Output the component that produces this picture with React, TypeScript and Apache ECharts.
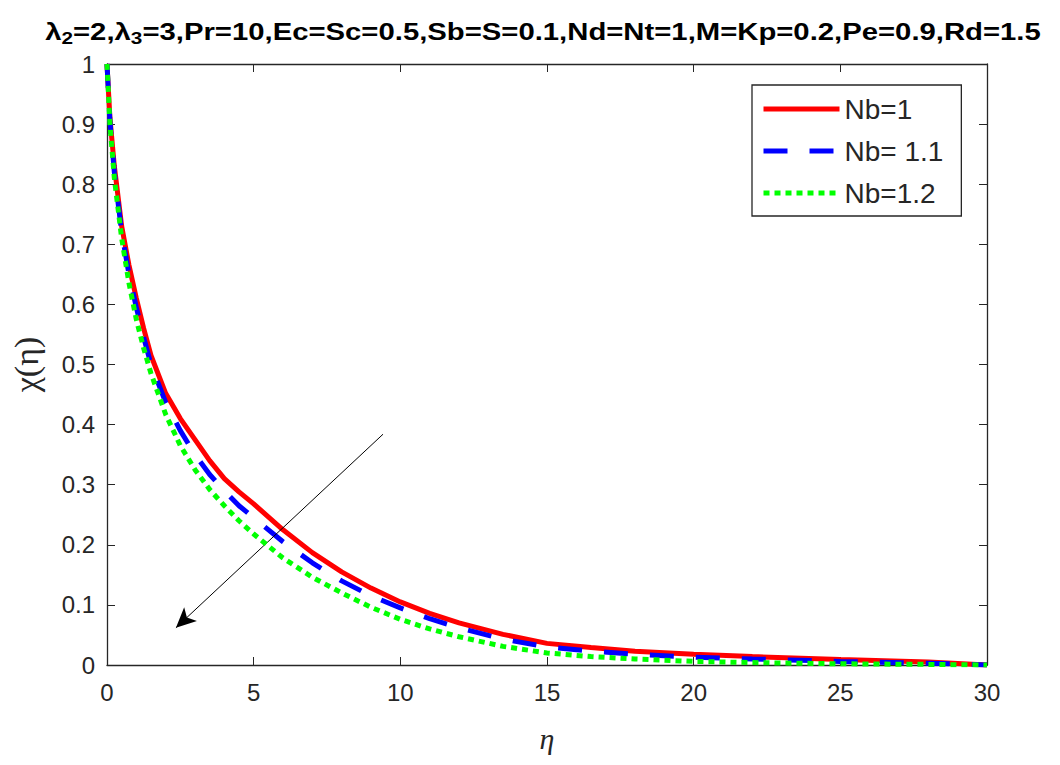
import React, { useEffect, useRef } from "react";
import * as echarts from "echarts";

const etaValues = [0, 0.1, 0.25, 0.5, 0.75, 1, 1.25, 1.5, 2, 2.5, 3, 3.5, 4, 4.5, 5, 6, 7, 8, 9, 10, 11, 12, 13.5, 15, 16.5, 18, 20, 22, 25, 28, 30];
const nb1Values = [1, 0.91, 0.83, 0.73, 0.665, 0.61, 0.56, 0.515, 0.452, 0.41, 0.375, 0.34, 0.31, 0.288, 0.268, 0.225, 0.187, 0.155, 0.128, 0.105, 0.086, 0.07, 0.051, 0.036, 0.029, 0.023, 0.018, 0.014, 0.009, 0.005, 0.0];
const nb11Values = [1, 0.905, 0.82, 0.72, 0.65, 0.595, 0.545, 0.5, 0.437, 0.39, 0.35, 0.317, 0.29, 0.265, 0.245, 0.205, 0.17, 0.14, 0.115, 0.095, 0.077, 0.062, 0.043, 0.03, 0.023, 0.018, 0.013, 0.01, 0.006, 0.003, 0];
const nb12Values = [1, 0.9, 0.81, 0.71, 0.635, 0.575, 0.527, 0.485, 0.417, 0.365, 0.325, 0.292, 0.265, 0.24, 0.218, 0.178, 0.146, 0.12, 0.096, 0.076, 0.06, 0.047, 0.031, 0.02, 0.014, 0.01, 0.006, 0.004, 0.002, 0.001, 0];
const seriesNames = ["Nb=1", "Nb= 1.1", "Nb=1.2"];
const titleText = "λ{sub|2}=2,λ{sub|3}=3,Pr=10,Ec=Sc=0.5,Sb=S=0.1,Nd=Nt=1,M=Kp=0.2,Pe=0.9,Rd=1.5";
const arrowStart = [9.41, 0.384];
const arrowEnd = [2.35, 0.062];
const xTicks = { min: 0, max: 30, interval: 5 };
const yTicks = { min: 0, max: 1, interval: 0.1 };

const pairs = (ys: number[]) => etaValues.map((x, i) => [x, ys[i]]);

export default function App() {
  const ref = useRef<HTMLDivElement>(null);
  useEffect(() => {
    if (!ref.current) return;
    const chart = echarts.init(ref.current, null, { renderer: "svg" });
    const axisColor = "#262626";
    const sans = "Liberation Sans, Arial, sans-serif";
    const labelFont = { color: axisColor, fontSize: 24, fontFamily: sans };
    const mirrorAxis = {
      axisLine: { show: true, onZero: false, lineStyle: { color: axisColor, width: 1.3 } },
      axisTick: { inside: true, length: 8, lineStyle: { color: axisColor } },
      axisLabel: { show: false },
      splitLine: { show: false },
    };
    chart.setOption({
      animation: false,
      backgroundColor: "#ffffff",
      graphic: [
        {
          type: "text",
          x: 543,
          y: 17,
          scaleX: 1.22,
          style: {
            text: titleText,
            textAlign: "center",
            textVerticalAlign: "top",
            fontSize: 24,
            fontWeight: "bold",
            fontFamily: sans,
            fill: "#000",
            rich: {
              sub: { fontSize: 17, fontWeight: "bold", fontFamily: sans, verticalAlign: "bottom", padding: [13, 0, 0, 0] },
            },
          },
        },
      ],
      grid: { left: 107, right: 73, top: 64, bottom: 100, containLabel: false },
      legend: {
        left: 752,
        top: 85,
        orient: "vertical",
        data: seriesNames,
        backgroundColor: "#fff",
        borderColor: axisColor,
        borderWidth: 1.3,
        padding: [10, 18, 9, 9],
        itemWidth: 76,
        itemHeight: 14,
        itemGap: 14,
        itemStyle: { opacity: 0 },
        lineStyle: { width: 5 },
        textStyle: { fontSize: 28, color: axisColor, fontFamily: sans },
      },
      xAxis: [
        {
          type: "value",
          ...xTicks,
          position: "bottom",
          name: "η",
          nameLocation: "middle",
          nameGap: 58,
          nameTextStyle: { fontSize: 30, fontStyle: "italic", color: axisColor, fontFamily: "Liberation Serif, serif" },
          axisLine: { show: true, lineStyle: { color: axisColor, width: 1.3 } },
          axisTick: { inside: true, length: 8, lineStyle: { color: axisColor } },
          axisLabel: { ...labelFont, margin: 15 },
          splitLine: { show: false },
        },
        { type: "value", ...xTicks, position: "top", ...mirrorAxis },
      ],
      yAxis: [
        {
          type: "value",
          ...yTicks,
          position: "left",
          name: "χ(η)",
          nameLocation: "middle",
          nameGap: 64,
          nameRotate: 90,
          nameTextStyle: { fontSize: 34, color: axisColor, fontFamily: "Liberation Serif, serif" },
          axisLine: { show: true, lineStyle: { color: axisColor, width: 1.3 } },
          axisTick: { inside: true, length: 8, lineStyle: { color: axisColor } },
          axisLabel: { ...labelFont, margin: 12 },
          splitLine: { show: false },
        },
        { type: "value", ...yTicks, position: "right", ...mirrorAxis },
      ],
      series: [
        {
          name: seriesNames[0],
          type: "line",
          data: pairs(nb1Values),
          showSymbol: false,
          symbol: "none",
          lineStyle: { color: "#ff0000", width: 5, type: "solid" },
          itemStyle: { color: "#ff0000" },
          z: 3,
          markLine: {
            silent: true,
            symbol: ["none", "arrow"],
            symbolSize: [14, 20],
            label: { show: false },
            lineStyle: { color: "#000", width: 1, type: "solid" },
            data: [[{ coord: arrowStart }, { coord: arrowEnd }]],
          },
        },
        {
          name: seriesNames[1],
          type: "line",
          data: pairs(nb11Values),
          showSymbol: false,
          symbol: "none",
          lineStyle: { color: "#0000ff", width: 5, type: [24, 22] },
          itemStyle: { color: "#0000ff" },
          z: 4,
        },
        {
          name: seriesNames[2],
          type: "line",
          data: pairs(nb12Values),
          showSymbol: false,
          symbol: "none",
          lineStyle: { color: "#00ff00", width: 5, type: [6, 5] },
          itemStyle: { color: "#00ff00" },
          z: 5,
        },
      ],
    });
    return () => chart.dispose();
  }, []);
  return <div ref={ref} style={{ position: "fixed", left: 0, top: 0, width: 1060, height: 765, background: "#fff" }} />;
}
